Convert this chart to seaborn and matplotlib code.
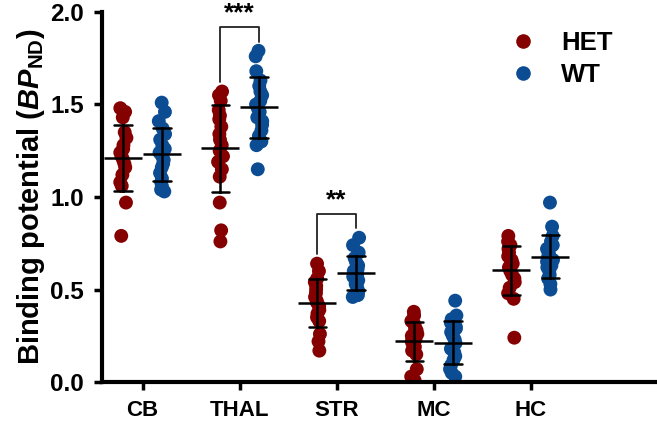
import numpy as np
import pandas as pd
import seaborn as sns
import matplotlib.pyplot as plt

# Regions and groups
regions = ["CB", "THAL", "STR", "MC", "HC"]
groups = ["HET", "WT"]

# BP_ND values, one list per region/group
cb_het = [1.48, 1.46, 1.43, 1.35, 1.32, 1.28, 1.26, 1.24, 1.22, 1.20, 1.18, 1.16, 1.12, 1.08, 1.06, 0.97, 0.79]
cb_wt = [1.51, 1.46, 1.41, 1.37, 1.34, 1.31, 1.28, 1.26, 1.24, 1.22, 1.20, 1.18, 1.16, 1.13, 1.10, 1.08, 1.06, 1.04, 1.03]
thal_het = [1.57, 1.55, 1.52, 1.47, 1.44, 1.42, 1.38, 1.34, 1.31, 1.28, 1.25, 1.22, 1.19, 1.15, 1.11, 0.97, 0.82, 0.76]
thal_wt = [1.79, 1.76, 1.68, 1.63, 1.60, 1.57, 1.55, 1.52, 1.50, 1.48, 1.46, 1.43, 1.41, 1.39, 1.36, 1.33, 1.30, 1.28, 1.15]
str_het = [0.64, 0.60, 0.56, 0.54, 0.52, 0.50, 0.48, 0.46, 0.44, 0.43, 0.41, 0.39, 0.37, 0.35, 0.33, 0.26, 0.22, 0.17]
str_wt = [0.78, 0.74, 0.70, 0.67, 0.65, 0.63, 0.61, 0.60, 0.58, 0.57, 0.56, 0.55, 0.53, 0.52, 0.50, 0.49, 0.47, 0.46]
mc_het = [0.38, 0.36, 0.33, 0.31, 0.29, 0.28, 0.26, 0.25, 0.24, 0.23, 0.22, 0.21, 0.19, 0.17, 0.15, 0.07, 0.03, 0.01]
mc_wt = [0.44, 0.36, 0.34, 0.32, 0.30, 0.29, 0.27, 0.25, 0.23, 0.21, 0.18, 0.16, 0.14, 0.12, 0.09, 0.07, 0.05, 0.03]
hc_het = [0.79, 0.76, 0.74, 0.72, 0.70, 0.68, 0.66, 0.64, 0.63, 0.62, 0.60, 0.58, 0.56, 0.54, 0.51, 0.48, 0.45, 0.24]
hc_wt = [0.97, 0.84, 0.79, 0.76, 0.74, 0.72, 0.70, 0.69, 0.67, 0.66, 0.65, 0.63, 0.62, 0.60, 0.58, 0.56, 0.53, 0.50]

# significance brackets: (region, label)
sig_marks = [("THAL", "***"), ("STR", "**")]

colors = {"HET": "#850000", "WT": "#0b4c93"}

series = {
    ("CB", "HET"): cb_het, ("CB", "WT"): cb_wt,
    ("THAL", "HET"): thal_het, ("THAL", "WT"): thal_wt,
    ("STR", "HET"): str_het, ("STR", "WT"): str_wt,
    ("MC", "HET"): mc_het, ("MC", "WT"): mc_wt,
    ("HC", "HET"): hc_het, ("HC", "WT"): hc_wt,
}
rows = [(r, g, v) for (r, g), vals in series.items() for v in vals]
df = pd.DataFrame(rows, columns=["region", "group", "bp"])

sns.set_style("ticks")
plt.rcParams["font.family"] = ["Liberation Sans", "DejaVu Sans"]
plt.rcParams["font.weight"] = "bold"
plt.rcParams["text.color"] = "black"
plt.rcParams["axes.labelcolor"] = "black"
plt.rcParams["xtick.color"] = "black"
plt.rcParams["ytick.color"] = "black"
plt.rcParams["axes.edgecolor"] = "black"
plt.rcParams["mathtext.fontset"] = "custom"
plt.rcParams["mathtext.it"] = "Liberation Sans:italic:bold"
plt.rcParams["mathtext.rm"] = "Liberation Sans:bold"
plt.rcParams["mathtext.bf"] = "Liberation Sans:bold"

fig = plt.figure(figsize=(6.57, 4.26), dpi=100)
ax = fig.add_axes([0.155, 0.103, 0.845, 0.869])

# jitter only spreads the dots sideways
np.random.seed(7)
sns.stripplot(data=df, x="region", y="bp", hue="group", order=regions,
              hue_order=groups, palette=colors, dodge=True, jitter=0.07,
              size=10, linewidth=0, ax=ax, zorder=2)

# mean +/- SD
sns.pointplot(data=df, x="region", y="bp", hue="group", order=regions,
              hue_order=groups, palette=["black", "black"], dodge=0.4,
              errorbar="sd", capsize=0.18, err_kws={"linewidth": 1.8},
              markers="_", markersize=28, markeredgewidth=1.8,
              linestyle="none", legend=False, ax=ax, zorder=5)

# significance brackets
for region, label in sig_marks:
    i = regions.index(region)
    top_het = max(series[(region, "HET")])
    top_wt = max(series[(region, "WT")])
    y_top = max(top_het, top_wt) + 0.13
    x0, x1 = i - 0.2, i + 0.2
    ax.plot([x0, x0, x1, x1], [top_het + 0.05, y_top, y_top, top_wt + 0.05],
            color="#222222", lw=1.3, zorder=1)
    ax.text(i, y_top + 0.01, label, ha="center", va="bottom",
            fontsize=19, fontweight="bold")

ax.set_xlim(-0.42, 5.3)
ax.set_ylim(0, 2.0)
ax.set_yticks([0.0, 0.5, 1.0, 1.5, 2.0])
ax.set_yticklabels(["0.0", "0.5", "1.0", "1.5", "2.0"])
ax.set_xlabel("")
ax.set_ylabel(r"Binding potential ($\mathit{BP}_{\mathrm{ND}}$)",
              fontsize=21, fontweight="bold", labelpad=2)
ax.tick_params(axis="x", width=2.5, length=6, labelsize=16, pad=7)
ax.tick_params(axis="y", width=2.5, length=6, labelsize=17.5, pad=7)
for side in ["top", "right"]:
    ax.spines[side].set_visible(False)
for side in ["left", "bottom"]:
    ax.spines[side].set_linewidth(3)
for lbl in ax.get_xticklabels() + ax.get_yticklabels():
    lbl.set_fontweight("bold")

handles, labels = ax.get_legend_handles_labels()
leg = ax.legend(handles[:2], labels[:2], loc="upper left",
                bbox_to_anchor=(0.67, 1.01), frameon=False,
                prop={"size": 18.5, "weight": "bold"}, handletextpad=0.5,
                markerscale=1.05, labelspacing=0.3)

fig.savefig("out.png", dpi=100)
